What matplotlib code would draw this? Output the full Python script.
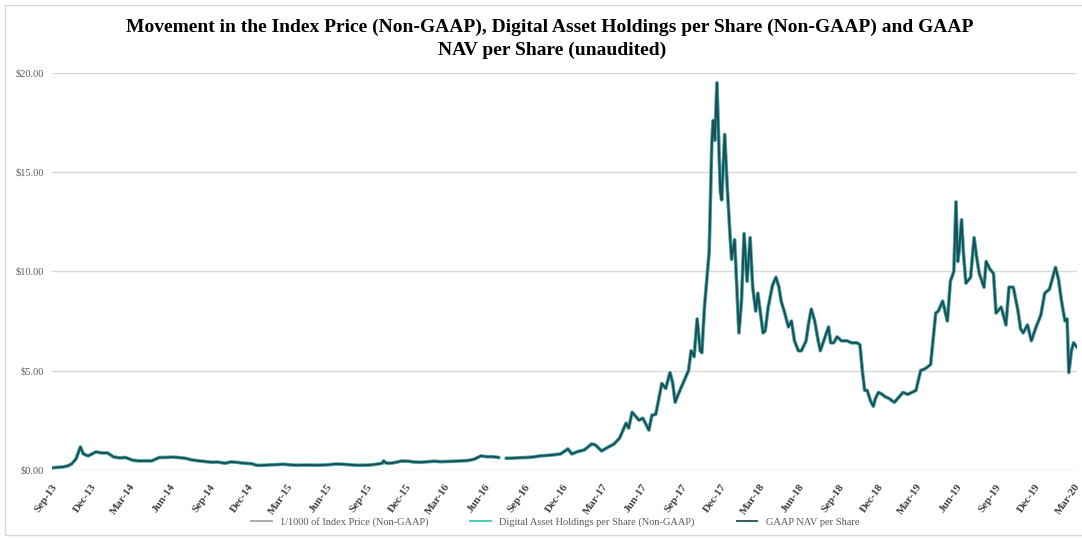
import matplotlib
matplotlib.use("Agg")
import matplotlib.pyplot as plt
import numpy as np
import pandas as pd
from matplotlib.patches import Rectangle

plt.rcParams['font.family'] = ['Liberation Serif', 'DejaVu Serif']

# values ($ per share), nan = gap in the line
dates = [
    "2013-09-25", "2013-10-05", "2013-10-20", "2013-11-01", "2013-11-10", "2013-11-20", "2013-11-30",
    "2013-12-07", "2013-12-18", "2014-01-05", "2014-01-20", "2014-02-01", "2014-02-15", "2014-03-01",
    "2014-03-15", "2014-04-01", "2014-04-15", "2014-05-01", "2014-05-15", "2014-06-01", "2014-06-15",
    "2014-07-01", "2014-07-15", "2014-08-01", "2014-08-15", "2014-09-01", "2014-09-15", "2014-10-01",
    "2014-10-15", "2014-11-01", "2014-11-15", "2014-12-01", "2014-12-15", "2015-01-01", "2015-01-15",
    "2015-02-01", "2015-02-15", "2015-03-01", "2015-03-15", "2015-04-01", "2015-04-15", "2015-05-01",
    "2015-05-15", "2015-06-01", "2015-06-15", "2015-07-01", "2015-07-15", "2015-08-01", "2015-08-15",
    "2015-09-01", "2015-09-15", "2015-10-01", "2015-10-15", "2015-11-01", "2015-11-04", "2015-11-10",
    "2015-11-20", "2015-12-01", "2015-12-15", "2016-01-01", "2016-01-15", "2016-02-01", "2016-02-15",
    "2016-03-01", "2016-03-15", "2016-04-01", "2016-04-15", "2016-05-01", "2016-05-15", "2016-06-01",
    "2016-06-17", "2016-07-01", "2016-07-15", "2016-07-28", "2016-08-05", "2016-08-15", "2016-09-01",
    "2016-09-15", "2016-10-01", "2016-10-15", "2016-11-01", "2016-11-15", "2016-12-01", "2016-12-19",
    "2017-01-05", "2017-01-14", "2017-01-28", "2017-02-12", "2017-03-01", "2017-03-10", "2017-03-24",
    "2017-04-05", "2017-04-22", "2017-05-05", "2017-05-20", "2017-05-26", "2017-06-03", "2017-06-11",
    "2017-06-19", "2017-06-28", "2017-07-12", "2017-07-19", "2017-07-28", "2017-08-11", "2017-08-20",
    "2017-08-30", "2017-09-05", "2017-09-11", "2017-09-18", "2017-10-02", "2017-10-12", "2017-10-18",
    "2017-10-25", "2017-11-01", "2017-11-08", "2017-11-12", "2017-11-18", "2017-11-29", "2017-12-05",
    "2017-12-08", "2017-12-12", "2017-12-17", "2017-12-22", "2017-12-25", "2017-12-28", "2018-01-04",
    "2018-01-10", "2018-01-17", "2018-01-20", "2018-01-27", "2018-02-06", "2018-02-12", "2018-02-18",
    "2018-02-25", "2018-03-04", "2018-03-10", "2018-03-17", "2018-03-22", "2018-04-03", "2018-04-08",
    "2018-04-15", "2018-04-25", "2018-05-03", "2018-05-10", "2018-05-15", "2018-05-22", "2018-06-01",
    "2018-06-08", "2018-06-15", "2018-06-24", "2018-07-01", "2018-07-12", "2018-07-18", "2018-07-24",
    "2018-08-01", "2018-08-09", "2018-08-14", "2018-08-22", "2018-09-02", "2018-09-07", "2018-09-14",
    "2018-09-22", "2018-10-02", "2018-10-15", "2018-10-25", "2018-11-07", "2018-11-14", "2018-11-20",
    "2018-11-25", "2018-12-01", "2018-12-08", "2018-12-15", "2018-12-20", "2018-12-27", "2019-01-05",
    "2019-01-10", "2019-01-20", "2019-02-02", "2019-02-10", "2019-02-22", "2019-03-05", "2019-03-24",
    "2019-04-04", "2019-04-15", "2019-04-27", "2019-05-09", "2019-05-15", "2019-05-25", "2019-06-05",
    "2019-06-12", "2019-06-20", "2019-06-25", "2019-06-29", "2019-07-02", "2019-07-08", "2019-07-12",
    "2019-07-18", "2019-07-29", "2019-08-06", "2019-08-12", "2019-08-18", "2019-08-29", "2019-09-03",
    "2019-09-12", "2019-09-20", "2019-09-26", "2019-10-08", "2019-10-19", "2019-10-26", "2019-11-05",
    "2019-11-16", "2019-11-22", "2019-11-28", "2019-12-08", "2019-12-17", "2019-12-28", "2020-01-08",
    "2020-01-17", "2020-01-28", "2020-02-11", "2020-02-18", "2020-02-25", "2020-03-04", "2020-03-09",
    "2020-03-13", "2020-03-19", "2020-03-24", "2020-03-31",
]
holdings_per_share = [
    0.10, 0.12, 0.14, 0.20, 0.30, 0.55, 1.15,
    0.80, 0.70, 0.90, 0.85, 0.85, 0.65, 0.60,
    0.62, 0.48, 0.45, 0.45, 0.45, 0.62, 0.62,
    0.64, 0.62, 0.58, 0.50, 0.45, 0.42, 0.38,
    0.39, 0.33, 0.40, 0.37, 0.33, 0.31, 0.22,
    0.23, 0.25, 0.26, 0.28, 0.25, 0.23, 0.24,
    0.24, 0.23, 0.24, 0.26, 0.29, 0.28, 0.26,
    0.23, 0.23, 0.24, 0.27, 0.33, 0.45, 0.34,
    0.33, 0.37, 0.44, 0.43, 0.39, 0.38, 0.41,
    0.43, 0.41, 0.42, 0.43, 0.45, 0.46, 0.53,
    0.70, 0.66, 0.66, 0.62, np.nan, 0.58, 0.59,
    0.61, 0.62, 0.64, 0.70, 0.72, 0.75, 0.80,
    1.05, 0.80, 0.92, 1.00, 1.30, 1.25, 0.95,
    1.10, 1.30, 1.60, 2.35, 2.10, 2.90, 2.70,
    2.50, 2.60, 2.00, 2.75, 2.80, 4.35, 4.10,
    4.90, 4.40, 3.40, 3.80, 4.50, 5.00, 6.00,
    5.70, 7.60, 6.00, 5.90, 8.20, 11.0, 16.4,
    17.6, 16.6, 19.5, 15.9, 14.0, 13.6, 16.9,
    14.2, 11.6, 10.6, 11.6, 6.90, 8.50, 11.9,
    9.50, 11.7, 9.20, 8.00, 8.90, 6.90, 7.00,
    8.20, 9.30, 9.70, 9.20, 8.50, 8.00, 7.20,
    7.50, 6.50, 6.00, 6.00, 6.50, 7.40, 8.10,
    7.50, 6.50, 6.00, 6.50, 7.20, 6.40, 6.40,
    6.70, 6.50, 6.50, 6.40, 6.40, 6.30, 4.90,
    4.00, 4.00, 3.50, 3.20, 3.60, 3.90, 3.80,
    3.70, 3.60, 3.40, 3.60, 3.90, 3.80, 4.00,
    5.00, 5.10, 5.30, 7.90, 8.00, 8.50, 7.50,
    9.50, 10.0, 13.5, 10.5, 11.0, 12.6, 11.0,
    9.40, 9.70, 11.7, 10.7, 9.90, 9.20, 10.5,
    10.1, 9.90, 7.90, 8.20, 7.30, 9.20, 9.20,
    8.00, 7.10, 6.90, 7.30, 6.50, 7.20, 7.80,
    8.90, 9.10, 10.2, 9.60, 8.50, 7.50, 7.60,
    4.90, 6.00, 6.40, 6.20,
]
# the three series lie on top of each other in the chart
index_price_1000 = holdings_per_share
gaap_nav = holdings_per_share

tick_labels = ["Sep-13", "Dec-13", "Mar-14", "Jun-14", "Sep-14", "Dec-14", "Mar-15", "Jun-15", "Sep-15",
               "Dec-15", "Mar-16", "Jun-16", "Sep-16", "Dec-16", "Mar-17", "Jun-17", "Sep-17", "Dec-17",
               "Mar-18", "Jun-18", "Sep-18", "Dec-18", "Mar-19", "Jun-19", "Sep-19", "Dec-19", "Mar-20"]

x = pd.to_datetime(dates)
ticks = pd.date_range("2013-09-01", periods=len(tick_labels), freq="3MS") + pd.Timedelta(days=24)

fig = plt.figure(figsize=(10.82, 5.40), dpi=100)
ax = fig.add_axes([0.048, 0.13, 0.947, 0.735])

ax.plot(x, index_price_1000, color='#a6a6a6', lw=2.6, label='1/1000 of Index Price (Non-GAAP)')
ax.plot(x, holdings_per_share, color='#3cc8b4', lw=2.3, label='Digital Asset Holdings per Share (Non-GAAP)')
ax.plot(x, gaap_nav, color='#1e4d5c', lw=1.5, label='GAAP NAV per Share')

ax.set_ylim(0, 20)
ax.set_xlim(x[0], x[-1])
ax.set_yticks([0, 5, 10, 15, 20])
ax.set_yticklabels(['$0.00', '$5.00', '$10.00', '$15.00', '$20.00'], fontsize=7.5, color='#595959')
ax.set_xticks(ticks)
ax.set_xticklabels(tick_labels, rotation=55, ha='right', rotation_mode='anchor',
                   fontsize=8, fontweight='bold', color='#404040')
ax.tick_params(axis='x', length=0, pad=9)
ax.tick_params(axis='y', length=0, pad=6)
ax.grid(axis='y', color='#d9d9d9', lw=1)
ax.set_axisbelow(True)
for s in ax.spines.values():
    s.set_visible(False)

fig.text(0.508, 0.95, 'Movement in the Index Price (Non-GAAP), Digital Asset Holdings per Share (Non-GAAP) and GAAP',
         ha='center', va='center', fontsize=14, fontweight='bold')
fig.text(0.51, 0.907, 'NAV per Share (unaudited)',
         ha='center', va='center', fontsize=14, fontweight='bold')

leg = fig.legend(loc='center', bbox_to_anchor=(0.513, 0.033), ncol=3, frameon=False, fontsize=7.5,
                 handlelength=2, columnspacing=4, labelcolor='#595959')
for h in leg.legend_handles:
    h.set_linewidth(1.3)

fig.patches.append(Rectangle((0.005, 0.01), 1.2, 0.98, transform=fig.transFigure,
                             fill=False, edgecolor='#d9d9d9', lw=1))

fig.savefig('out.png', dpi=100)
